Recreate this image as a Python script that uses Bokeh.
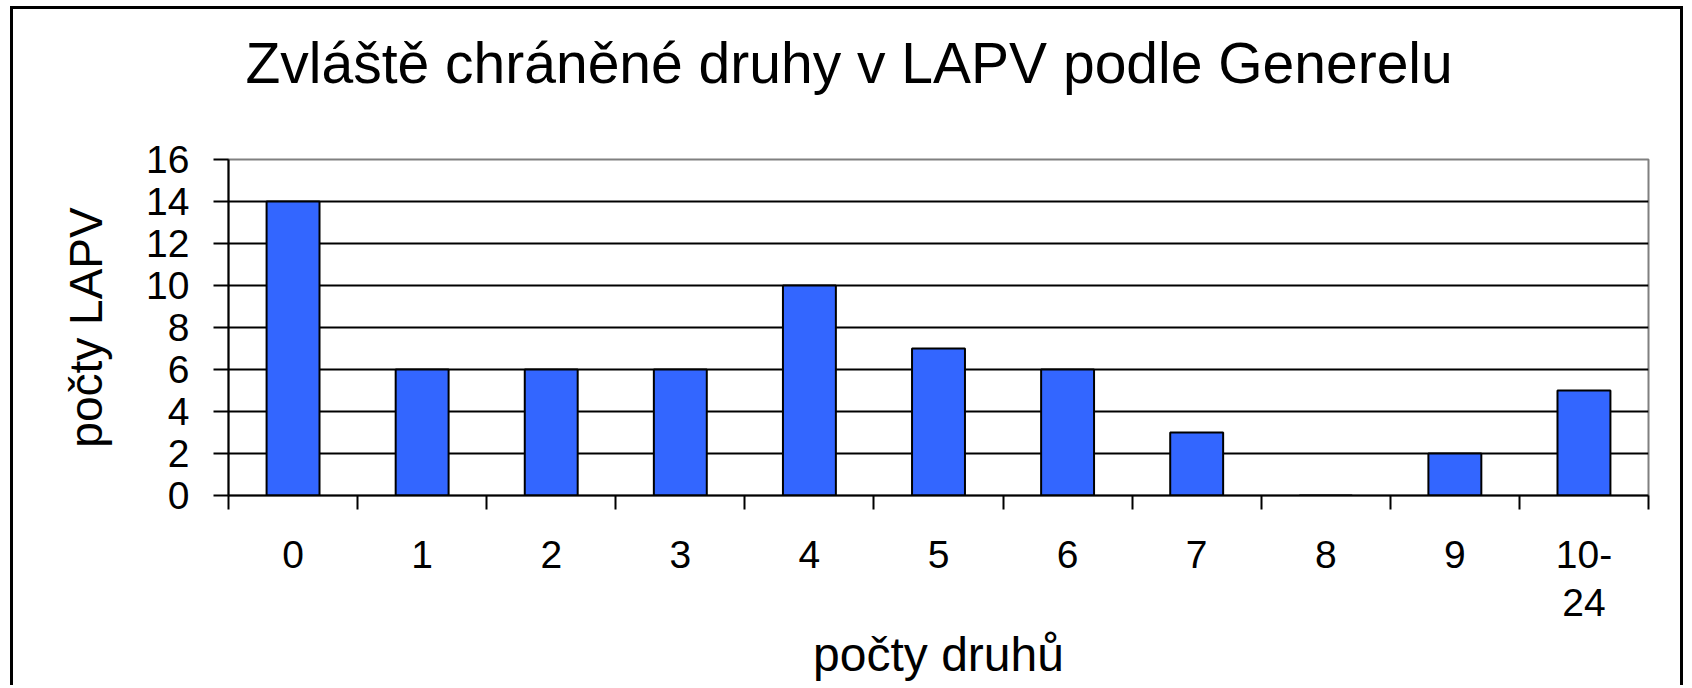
from bokeh.plotting import figure
from bokeh.models import Range1d, FixedTicker, Title
from bokeh.embed import file_html
from bokeh.resources import INLINE

# ---- data ----
categories = ["0", "1", "2", "3", "4", "5", "6", "7", "8", "9", "10-\n24"]
counts = [14, 6, 6, 6, 10, 7, 6, 3, 0, 2, 5]
y_ticks = [0, 2, 4, 6, 8, 10, 12, 14, 16]
title_text = "Zvláště chráněné druhy v LAPV podle Generelu"
x_title = "počty druhů"
y_title = "počty LAPV"

FONT = "Liberation Sans"

n = len(categories)
centers = [i + 0.5 for i in range(n)]
boundaries = [i for i in range(n + 1)]

W, H = 1673, 679
p = figure(width=W, height=H, output_backend="svg", toolbar_location=None,
           title=None,
           x_range=Range1d(0, n), y_range=Range1d(0, 16),
           min_border_left=215, min_border_right=38, min_border_top=150,
           min_border_bottom=193, background_fill_color="white",
           border_fill_color="white")

p.styles = {"border-left": "3px solid black", "border-top": "3px solid black",
            "border-right": "3px solid black", "margin-left": "10px",
            "margin-top": "6px"}

# spacer (closest to the frame), then the real title above it
p.add_layout(Title(text=" ", text_font_size="1px", standoff=57), "above")
p.add_layout(Title(text=title_text, align="left", offset=17, text_font=FONT,
                   text_font_size="57px", text_font_style="normal",
                   text_color="black", standoff=10), "above")

p.vbar(x=centers, top=counts, width=0.41, fill_color="#3366FF",
       line_color="black", line_width=2)

# grid
p.xgrid.visible = False
p.ygrid.ticker = FixedTicker(ticks=y_ticks[1:-1])
p.ygrid.grid_line_color = "black"
p.ygrid.grid_line_width = 2

p.outline_line_color = "#808080"
p.outline_line_width = 2

# x axis
xa = p.xaxis[0]
xa.ticker = FixedTicker(ticks=centers, minor_ticks=boundaries)
xa.major_label_overrides = {c: lab for c, lab in zip(centers, categories)}
xa.major_tick_out = 0
xa.major_tick_in = 0
xa.minor_tick_out = 14
xa.minor_tick_in = 0
xa.minor_tick_line_color = "black"
xa.minor_tick_line_width = 2
xa.axis_line_color = "black"
xa.axis_line_width = 2
xa.major_label_text_font = FONT
xa.major_label_text_font_size = "39px"
xa.major_label_text_color = "black"
xa.major_label_text_line_height = 1.125
xa.major_label_standoff = 23
xa.axis_label = x_title
xa.axis_label_text_font = FONT
xa.axis_label_text_font_size = "48px"
xa.axis_label_text_font_style = "normal"
xa.axis_label_text_color = "black"
xa.axis_label_standoff = 1

# y axis
ya = p.yaxis[0]
ya.ticker = FixedTicker(ticks=y_ticks)
ya.major_tick_out = 15
ya.major_tick_in = 0
ya.major_tick_line_width = 2
ya.major_tick_line_color = "black"
ya.minor_tick_out = 0
ya.minor_tick_in = 0
ya.axis_line_color = "black"
ya.axis_line_width = 2
ya.major_label_text_font = FONT
ya.major_label_text_font_size = "39px"
ya.major_label_text_color = "black"
ya.major_label_standoff = 24
ya.axis_label = y_title
ya.axis_label_text_font = FONT
ya.axis_label_text_font_size = "46px"
ya.axis_label_text_font_style = "normal"
ya.axis_label_text_color = "black"
ya.axis_label_standoff = 31

open("out.html", "w").write(file_html(p, INLINE))
